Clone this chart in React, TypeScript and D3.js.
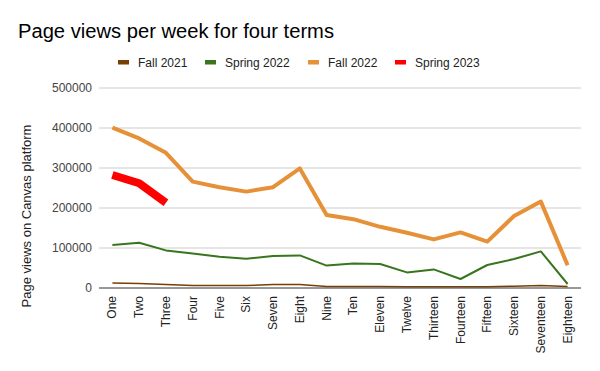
import React, { useEffect, useRef } from "react";
import * as d3 from "d3";

const weeks = [
  "One", "Two", "Three", "Four", "Five", "Six", "Seven", "Eight", "Nine",
  "Ten", "Eleven", "Twelve", "Thirteen", "Fourteen", "Fifteen", "Sixteen",
  "Seventeen", "Eighteen",
];

const fall2021 = [12500, 11500, 9000, 6000, 6000, 6000, 8500, 8500, 4000, 4000, 4000, 3000, 3000, 3000, 3000, 4500, 6000, 3500];
const spring2022 = [107500, 113000, 94000, 86500, 78000, 73000, 80000, 81500, 56000, 61500, 60000, 39000, 46500, 22500, 57500, 72500, 91500, 10000];
const fall2022 = [401000, 374000, 338000, 266000, 252000, 241000, 252000, 299000, 182500, 172000, 153000, 138000, 121500, 139000, 116000, 180000, 216000, 57000];
const spring2023 = [282500, 262000, 213000];

const yTicks = [0, 100000, 200000, 300000, 400000, 500000];

const series = [
  { name: "Fall 2021", values: fall2021, color: "#783f04", width: 1.5 },
  { name: "Spring 2022", values: spring2022, color: "#38761d", width: 2 },
  { name: "Fall 2022", values: fall2022, color: "#e69138", width: 4 },
  { name: "Spring 2023", values: spring2023, color: "#ff0000", width: 8 },
];

// legend swatch positions
const legendX = [118, 205, 308, 395];

export default function App() {
  const ref = useRef<SVGSVGElement>(null);

  useEffect(() => {
    const svg = d3.select(ref.current);
    svg.selectAll("*").remove();
    const font = "Arial, 'Liberation Sans', sans-serif";
    const left = 99, right = 581, top = 88, bottom = 288;

    const x = d3.scalePoint<string>().domain(weeks).range([left, right]).padding(0.5);
    const y = d3.scaleLinear().domain([0, 500000]).range([bottom, top]);

    svg.append("rect").attr("width", 600).attr("height", 371).attr("fill", "#fff");

    svg.append("text")
      .attr("x", 18).attr("y", 38)
      .attr("font-family", font).attr("font-size", 20)
      .attr("textLength", 316).attr("lengthAdjust", "spacingAndGlyphs")
      .attr("fill", "#000")
      .text("Page views per week for four terms");

    // legend
    const lg = svg.append("g");
    series.forEach((s, i) => {
      lg.append("rect")
        .attr("x", legendX[i]).attr("y", 60)
        .attr("width", 11).attr("height", 4.5)
        .attr("fill", s.color);
      lg.append("text")
        .attr("x", legendX[i] + 20).attr("y", 66.5)
        .attr("font-family", font).attr("font-size", 12)
        .attr("fill", "#222")
        .text(s.name);
    });

    // grid
    svg.append("g")
      .selectAll("line")
      .data(yTicks.filter((t) => t > 0))
      .join("line")
      .attr("x1", left).attr("x2", right)
      .attr("y1", (d) => y(d)).attr("y2", (d) => y(d))
      .attr("stroke", "#cccccc").attr("stroke-width", 1);

    // y tick labels
    svg.append("g")
      .selectAll("text")
      .data(yTicks)
      .join("text")
      .attr("x", 92).attr("y", (d) => y(d) + 4)
      .attr("text-anchor", "end")
      .attr("font-family", font).attr("font-size", 12)
      .attr("fill", "#444")
      .text((d) => String(d));

    svg.append("text")
      .attr("transform", `translate(31,216) rotate(-90)`)
      .attr("text-anchor", "middle")
      .attr("font-family", font).attr("font-size", 13)
      .attr("fill", "#222")
      .text("Page views on Canvas platform");

    // lines
    const line = d3.line<number>()
      .x((_, i) => x(weeks[i]) as number)
      .y((d) => y(d));
    series.forEach((s) => {
      svg.append("path")
        .datum(s.values)
        .attr("fill", "none")
        .attr("stroke", s.color)
        .attr("stroke-width", s.width)
        .attr("stroke-linejoin", "round")
        .attr("d", line);
    });

    // baseline
    svg.append("line")
      .attr("x1", left).attr("x2", right)
      .attr("y1", bottom).attr("y2", bottom)
      .attr("stroke", "#333").attr("stroke-width", 1);

    // x labels
    svg.append("g")
      .selectAll("text")
      .data(weeks)
      .join("text")
      .attr("transform", (d) => `translate(${(x(d) as number) + 4},296) rotate(-90)`)
      .attr("text-anchor", "end")
      .attr("font-family", font).attr("font-size", 12)
      .attr("fill", "#222")
      .text((d) => d);
  }, []);

  return <svg ref={ref} width={600} height={371} style={{ display: "block", position: "absolute", left: 0, top: 0 }} />;
}
